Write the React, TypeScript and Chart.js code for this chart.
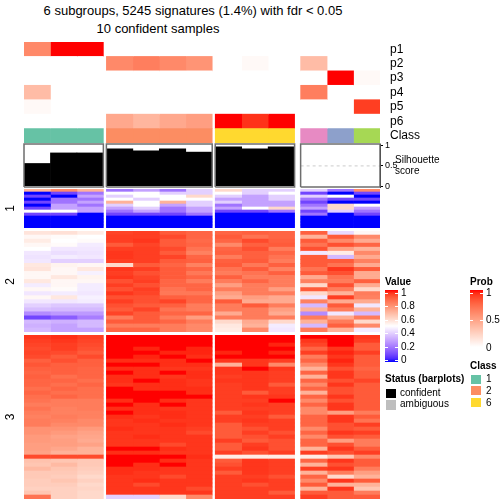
import React, { useEffect, useRef } from 'react';
import { Chart, registerables } from 'chart.js';
Chart.register(...registerables);

const FONT = '"Liberation Sans", Arial, Helvetica, sans-serif';
Chart.defaults.font.family = FONT;
Chart.defaults.color = '#000';

// ---------------- data ----------------
const titleLine1 = '6 subgroups, 5245 signatures (1.4%) with fdr < 0.05';
const titleLine2 = '10 confident samples';

const sampleClass = [1, 1, 1, 2, 2, 2, 2, 6, 6, 6, 4, 3, 5];
const colsPerSlice = [3, 4, 3, 3];

const probLabels = ['p1', 'p2', 'p3', 'p4', 'p5', 'p6'];
const p1 = [0.6, 1, 1, 0, 0, 0, 0, 0, 0, 0, 0, 0, 0];
const p2 = [0, 0, 0, 0.6, 0.65, 0.6, 0.55, 0, 0.03, 0, 0.35, 0, 0];
const p3 = [0, 0, 0, 0, 0, 0, 0, 0, 0, 0, 0, 1, 0.03];
const p4 = [0.35, 0, 0, 0, 0, 0, 0, 0, 0, 0, 0.65, 0, 0];
const p5 = [0.03, 0, 0, 0, 0, 0, 0, 0, 0, 0, 0, 0, 0.9];
const p6 = [0, 0, 0, 0.45, 0.38, 0.45, 0.5, 1, 0.93, 1, 0, 0, 0];
const probMatrix = [p1, p2, p3, p4, p5, p6];
const classLabel = 'Class';
const classColors: Record<number, string> = {
  1: '#66C2A5', 2: '#FC8D62', 3: '#8DA0CB', 4: '#E78AC3', 5: '#A6D854', 6: '#FFD92F',
};

const silhouette = [0.56, 0.82, 0.82, 0.92, 0.87, 0.92, 0.84, 0.97, 0.92, 0.97, 0, 0, 0];
const silTicks = [0, 0.5, 1];

const rowSliceLabels = ['1', '2', '3'];
// heatmap values x10 (0 = blue, 5 = white, 10 = red)
const heatSlice1 = [
  [7, 8, 7, 2, 3, 2, 4, 6, 4, 4, 4, 2, 8],
  [0, 1, 2, 5, 5, 4, 4, 5, 4, 5, 1, 0, 1],
  [1, 0, 3, 4, 5, 5, 6, 4, 3, 4, 4, 5, 0],
  [0, 2, 2, 5, 4, 5, 5, 3, 3, 4, 2, 1, 1],
  [1, 2, 3, 7, 5, 7, 4, 4, 3, 3, 1, 0, 0],
  [0, 3, 2, 4, 5, 3, 4, 2, 3, 3, 2, 6, 5],
  [1, 3, 3, 3, 4, 2, 3, 3, 5, 6, 3, 6, 3],
  [5, 5, 3, 2, 3, 2, 3, 1, 1, 2, 1, 4, 2],
  [1, 1, 0, 1, 1, 1, 2, 0, 0, 0, 2, 0, 1],
  [0, 0, 0, 0, 0, 0, 0, 0, 0, 0, 0, 0, 0],
  [0, 0, 0, 0, 0, 0, 0, 0, 0, 0, 0, 0, 0],
  [0, 0, 0, 0, 0, 0, 0, 0, 0, 0, 0, 0, 0],
  [0, 0, 0, 0, 0, 0, 0, 0, 0, 0, 0, 0, 0],
];
const heatSlice2 = [
  [5.7, 5.8, 5.5, 9.4, 9.5, 9.0, 8.8, 8.8, 8.9, 8.8, 8.9, 4.2, 5.2],
  [5.2, 5.1, 5.0, 9.5, 9.5, 9.3, 8.8, 9.0, 8.5, 8.8, 7.0, 9.0, 8.0],
  [5.5, 5.0, 5.1, 9.5, 9.6, 9.0, 8.7, 8.8, 9.3, 8.9, 9.0, 8.0, 7.2],
  [5.2, 5.1, 4.6, 9.0, 9.4, 9.0, 8.8, 8.0, 8.9, 9.0, 8.5, 9.2, 8.8],
  [5.0, 4.5, 4.5, 9.5, 9.5, 9.3, 8.5, 8.8, 9.2, 8.3, 9.2, 7.5, 7.0],
  [4.5, 4.3, 4.4, 9.6, 9.5, 9.0, 8.2, 8.9, 8.9, 8.8, 4.5, 5.5, 8.0],
  [4.4, 4.6, 4.5, 9.6, 9.5, 9.4, 8.8, 8.3, 8.9, 8.5, 9.0, 3.5, 7.2],
  [4.5, 4.0, 4.0, 9.5, 9.5, 9.0, 8.9, 8.9, 9.0, 8.3, 9.0, 9.0, 8.2],
  [5.6, 5.3, 5.2, 6.0, 9.0, 8.8, 8.2, 9.0, 8.4, 8.9, 9.0, 8.5, 7.2],
  [5.7, 5.2, 5.6, 9.6, 9.5, 9.0, 8.8, 8.5, 9.0, 8.2, 8.5, 9.6, 9.0],
  [5.2, 5.2, 4.7, 9.5, 9.2, 9.0, 8.4, 8.3, 8.5, 8.9, 9.0, 9.2, 7.2],
  [5.2, 5.6, 5.3, 9.6, 9.4, 9.0, 8.8, 8.9, 8.3, 8.3, 7.2, 8.5, 7.2],
  [5.6, 5.2, 5.2, 9.2, 9.5, 8.8, 8.3, 8.3, 8.8, 8.3, 8.2, 8.3, 8.9],
  [4.6, 5.2, 4.6, 9.5, 9.2, 8.8, 8.8, 7.5, 8.3, 8.3, 6.0, 9.2, 7.2],
  [5.2, 5.1, 4.6, 9.2, 9.5, 8.5, 8.8, 8.3, 8.3, 7.5, 9.0, 8.3, 6.0],
  [4.5, 4.6, 4.5, 9.6, 9.4, 8.4, 8.4, 7.5, 8.3, 8.3, 6.0, 7.0, 8.3],
  [5.2, 5.6, 4.7, 9.2, 9.2, 8.9, 8.8, 7.2, 7.5, 7.2, 4.5, 9.5, 8.2],
  [4.5, 4.5, 4.6, 9.5, 9.2, 9.4, 8.8, 9.0, 7.2, 7.2, 8.2, 7.2, 7.2],
  [4.0, 3.8, 3.8, 9.2, 9.0, 8.9, 8.3, 8.3, 9.0, 8.3, 3.5, 9.0, 4.5],
  [3.6, 3.5, 3.5, 9.0, 9.4, 8.5, 8.3, 8.3, 8.3, 7.5, 7.0, 8.3, 7.0],
  [2.5, 2.8, 2.8, 9.4, 9.0, 8.8, 8.8, 7.2, 8.3, 7.2, 2.5, 4.5, 3.5],
  [1.0, 1.5, 2.2, 8.3, 9.0, 8.3, 7.5, 8.3, 8.3, 8.3, 8.3, 7.2, 8.3],
  [3.5, 3.3, 3.5, 9.0, 9.0, 8.8, 8.3, 6.0, 7.2, 6.0, 7.0, 8.3, 6.0],
  [3.3, 3.0, 3.5, 8.3, 8.3, 8.3, 8.0, 5.6, 7.0, 4.6, 3.5, 8.9, 8.0],
  [3.5, 3.0, 3.0, 8.8, 8.8, 8.3, 8.0, 5.5, 8.0, 4.5, 8.3, 7.0, 4.6],
];
const heatSlice3 = [
  [9.6, 9.7, 9.5, 10, 10, 10, 10, 10, 10, 10, 10, 10, 9.6],
  [9.5, 9.6, 9.4, 10, 10, 10, 10, 10, 10, 10, 9.6, 10, 9.5],
  [9.4, 9.5, 9.3, 10, 10, 10, 10, 10, 10, 9.8, 9.4, 10, 9.0],
  [9.3, 9.5, 9.2, 10, 9.8, 10, 9.8, 10, 10, 10, 8.8, 9.6, 9.0],
  [9.4, 9.3, 9.0, 10, 10, 9.8, 9.8, 9.8, 10, 9.8, 9.5, 9.8, 9.5],
  [9.3, 9.0, 9.3, 10, 9.8, 10, 9.7, 10, 10, 10, 8.3, 9.6, 9.0],
  [8.9, 9.2, 8.9, 9.7, 9.7, 9.7, 10, 9.6, 9.6, 9.5, 8.8, 9.8, 9.0],
  [9.1, 8.9, 8.9, 10, 10, 9.7, 9.7, 7.0, 9.6, 8.0, 8.0, 9.6, 9.0],
  [8.9, 8.9, 8.8, 9.7, 9.7, 9.6, 9.6, 9.6, 10, 9.6, 7.0, 9.2, 8.8],
  [8.8, 8.9, 8.8, 10, 9.7, 10, 9.7, 9.6, 9.6, 9.5, 8.8, 9.6, 9.0],
  [8.9, 8.6, 8.8, 9.7, 9.7, 9.6, 9.7, 9.5, 9.6, 9.5, 7.0, 9.6, 9.0],
  [8.8, 8.8, 8.6, 9.7, 10, 9.7, 9.6, 9.6, 9.6, 9.5, 8.8, 9.2, 9.4],
  [8.8, 8.6, 8.8, 9.6, 9.7, 9.7, 9.6, 9.5, 9.6, 9.0, 8.0, 9.6, 9.0],
  [8.6, 8.8, 8.6, 10, 9.7, 9.7, 9.7, 9.5, 9.6, 9.5, 8.8, 9.2, 9.0],
  [8.8, 8.6, 8.6, 10, 10, 10, 9.7, 9.5, 9.0, 9.5, 7.0, 9.2, 9.0],
  [8.6, 8.8, 8.6, 10, 10, 10, 10, 9.5, 9.6, 9.6, 8.8, 9.6, 9.0],
  [8.5, 8.3, 8.3, 9.7, 10, 9.7, 9.6, 9.5, 9.5, 10, 8.0, 9.2, 9.0],
  [8.3, 8.3, 8.3, 10, 9.7, 10, 9.6, 9.5, 9.6, 9.5, 8.8, 9.6, 9.0],
  [8.5, 8.2, 8.3, 9.7, 9.7, 9.6, 9.6, 9.5, 9.5, 9.5, 8.0, 9.6, 9.0],
  [8.3, 8.2, 8.2, 10, 9.7, 9.7, 9.6, 9.0, 9.6, 9.5, 8.0, 7.5, 8.3],
  [8.2, 8.3, 8.2, 9.7, 9.6, 9.7, 9.6, 9.5, 9.5, 9.0, 8.8, 9.6, 9.0],
  [8.3, 8.2, 8.0, 9.6, 9.7, 9.6, 9.6, 9.5, 9.6, 9.5, 8.8, 9.6, 8.5],
  [8.3, 8.0, 8.0, 9.6, 9.6, 9.7, 9.6, 9.0, 9.5, 9.5, 8.8, 9.2, 9.5],
  [7.8, 7.8, 7.6, 9.7, 9.6, 9.6, 9.5, 9.0, 9.2, 9.5, 8.0, 9.2, 9.0],
  [7.8, 7.6, 7.4, 9.6, 9.6, 9.6, 9.3, 9.0, 9.5, 9.2, 8.8, 9.6, 9.5],
  [7.6, 7.4, 7.3, 9.6, 9.7, 9.6, 9.6, 9.0, 9.2, 9.5, 8.0, 9.2, 9.0],
  [7.6, 7.5, 7.2, 9.6, 9.6, 9.6, 9.6, 9.5, 9.0, 9.2, 8.8, 7.5, 8.3],
  [7.5, 7.5, 7.4, 9.6, 9.6, 9.3, 9.6, 9.0, 9.5, 9.2, 8.8, 9.2, 8.3],
  [7.5, 7.3, 7.0, 10, 10, 9.7, 9.6, 9.0, 9.6, 9.2, 7.0, 9.6, 9.0],
  [7.4, 7.0, 7.0, 9.7, 9.7, 9.6, 9.6, 9.5, 9.2, 9.5, 9.5, 9.2, 9.5],
  [9.3, 9.3, 9.3, 10, 10, 10, 9.7, 5.5, 5.5, 5.5, 5.5, 6.5, 8.0],
  [6.6, 6.5, 6.4, 10, 10, 9.7, 9.6, 9.0, 9.6, 9.5, 8.8, 9.6, 9.0],
  [6.5, 6.8, 6.4, 10, 9.7, 10, 9.6, 9.2, 9.6, 9.5, 7.0, 9.2, 9.0],
  [6.8, 6.5, 6.3, 9.7, 9.7, 9.6, 9.6, 9.5, 9.6, 9.5, 9.5, 9.6, 8.3],
  [6.4, 6.4, 6.2, 9.7, 9.6, 9.6, 9.6, 9.0, 9.6, 9.5, 7.0, 8.3, 7.5],
  [6.4, 6.3, 6.0, 9.6, 9.6, 9.3, 9.6, 9.5, 9.5, 9.2, 8.8, 6.0, 7.0],
  [6.3, 6.5, 6.2, 9.6, 9.7, 9.6, 9.6, 9.5, 9.6, 9.5, 8.0, 9.6, 9.0],
  [6.3, 6.3, 6.0, 9.6, 9.3, 9.6, 9.6, 9.5, 9.2, 9.5, 9.0, 7.0, 7.0],
  [6.2, 6.2, 6.1, 9.6, 9.6, 9.6, 9.3, 9.5, 9.5, 9.5, 7.0, 9.6, 6.5],
  [6.5, 6.2, 6.0, 9.6, 9.6, 9.6, 9.6, 9.5, 9.5, 9.0, 9.0, 9.0, 8.3],
  [8.5, 6.2, 6.0, 4.0, 4.0, 6.0, 8.0, 9.5, 9.5, 9.5, 9.5, 9.0, 9.0],
];
const heatSlices = [heatSlice1, heatSlice2, heatSlice3];

const valueLegendTitle = 'Value';
const valueLegendTicks = [1, 0.8, 0.6, 0.4, 0.2, 0];
const probLegendTitle = 'Prob';
const probLegendTicks = [1, 0.5, 0];
const classLegendTitle = 'Class';
const classLegendItems = [1, 2, 6];
const statusLegendTitle = 'Status (barplots)';
const statusLabels = ['confident', 'ambiguous'];
const statusColors = ['#000000', '#BEBEBE'];

// ---------------- layout ----------------
const W = 504;
const PLOT_L = 24;
const RIGHT_SPACE = 124;
const SLICE_GAPS = [0.114, 0.114, 0.228];
const ANNO_TOP = 42;
const ANNO_H = 101;
const SIL_CANVAS_TOP = 138;
const SIL_CANVAS_H = 54;
const SIL_MIN = -0.02;
const SIL_MAX = 1.04;
const HEAT_BANDS: [number, number][] = [[189, 228], [231, 332], [335, 499]];

// ---------------- colours (LAB interpolation) ----------------
function hexToRgb(h: string) {
  return [parseInt(h.slice(1, 3), 16), parseInt(h.slice(3, 5), 16), parseInt(h.slice(5, 7), 16)];
}
function toLin(c: number) {
  c /= 255;
  return c <= 0.04045 ? c / 12.92 : Math.pow((c + 0.055) / 1.055, 2.4);
}
function fromLin(c: number) {
  const v = c <= 0.0031308 ? 12.92 * c : 1.055 * Math.pow(Math.max(c, 0), 1 / 2.4) - 0.055;
  return Math.round(Math.max(0, Math.min(1, v)) * 255);
}
function rgbToLab(rgb: number[]) {
  const [R, G, B] = rgb.map(toLin);
  const X = (0.4124564 * R + 0.3575761 * G + 0.1804375 * B) / 0.95047;
  const Y = 0.2126729 * R + 0.7151522 * G + 0.072175 * B;
  const Z = (0.0193339 * R + 0.119192 * G + 0.9503041 * B) / 1.08883;
  const f = (t: number) => (t > 0.008856 ? Math.cbrt(t) : 7.787 * t + 16 / 116);
  return [116 * f(Y) - 16, 500 * (f(X) - f(Y)), 200 * (f(Y) - f(Z))];
}
function labToRgb(lab: number[]) {
  const [L, a, b] = lab;
  const fy = (L + 16) / 116;
  const fx = fy + a / 500;
  const fz = fy - b / 200;
  const inv = (t: number) => (t * t * t > 0.008856 ? t * t * t : (t - 16 / 116) / 7.787);
  const X = inv(fx) * 0.95047;
  const Y = inv(fy);
  const Z = inv(fz) * 1.08883;
  const R = 3.2404542 * X - 1.5371385 * Y - 0.4985314 * Z;
  const G = -0.969266 * X + 1.8760108 * Y + 0.041556 * Z;
  const B = 0.0556434 * X - 0.2040259 * Y + 1.0572252 * Z;
  return [fromLin(R), fromLin(G), fromLin(B)];
}
function makeRamp(breaks: number[], hexes: string[]) {
  const labs = hexes.map((h) => rgbToLab(hexToRgb(h)));
  return (v: number) => {
    const x = Math.max(breaks[0], Math.min(breaks[breaks.length - 1], v));
    let i = 0;
    while (i < breaks.length - 2 && x > breaks[i + 1]) i++;
    const t = (x - breaks[i]) / (breaks[i + 1] - breaks[i]);
    const lab = labs[i].map((c, k) => c + (labs[i + 1][k] - c) * t);
    const [r, g, b] = labToRgb(lab);
    return `rgb(${r},${g},${b})`;
  };
}
const valueColor = makeRamp([0, 0.5, 1], ['#0000FF', '#FFFFFF', '#FF0000']);
const probColor = makeRamp([0, 1], ['#FFFFFF', '#FF0000']);

// ---------------- column geometry ----------------
const colStart: number[] = [];
const sliceRange: [number, number][] = [];
let cursor = 0;
colsPerSlice.forEach((n, s) => {
  const s0 = cursor;
  for (let i = 0; i < n; i++) {
    colStart.push(cursor);
    cursor += 1;
  }
  sliceRange.push([s0, cursor]);
  if (s < SLICE_GAPS.length) cursor += SLICE_GAPS[s];
});
const X_MAX = cursor;

const baseOptions = {
  animation: false,
  responsive: false,
  events: [],
  plugins: { legend: { display: false }, tooltip: { enabled: false }, title: { display: false } },
};
const xHidden = { type: 'linear', display: false, min: 0, max: X_MAX, offset: false, ticks: { stepSize: 100 } };

function annoConfig(): any {
  const labels = [...probLabels, classLabel];
  return {
    type: 'bar',
    data: {
      labels,
      datasets: sampleClass.map((cls, j) => ({
        data: labels.map(() => [colStart[j], colStart[j] + 1]),
        backgroundColor: [...probMatrix.map((row) => probColor(row[j])), classColors[cls]],
        borderWidth: 0,
        barPercentage: 1,
        categoryPercentage: 1,
        grouped: false,
      })),
    },
    options: {
      ...baseOptions,
      indexAxis: 'y',
      layout: { padding: { left: PLOT_L, right: 0, top: 0, bottom: 0 } },
      scales: {
        x: xHidden,
        y: {
          type: 'category',
          position: 'right',
          offset: true,
          grid: { display: false },
          border: { display: false },
          ticks: { color: '#000', font: { size: 12, family: FONT }, padding: 2, autoSkip: false },
          afterFit: (s: any) => {
            s.width = RIGHT_SPACE;
            s.paddingTop = 0;
            s.paddingBottom = 0;
          },
        },
      },
    },
  };
}

function silConfig(): any {
  const datasets: any[] = [
    {
      type: 'bar',
      data: silhouette.map((v, j) => ({ x: colStart[j] + 0.5, y: v > 0 ? v : null })),
      backgroundColor: '#000000',
      borderWidth: 0,
      barPercentage: 1,
      categoryPercentage: 1,
      grouped: false,
      order: 2,
    },
    {
      type: 'line',
      data: [{ x: sliceRange[3][0], y: 0.5 }, { x: sliceRange[3][1], y: 0.5 }],
      borderColor: '#CCCCCC',
      borderDash: [3, 3],
      borderWidth: 1,
      pointRadius: 0,
      order: 3,
    },
    ...sliceRange.map(([a, b]) => ({
      type: 'line',
      data: [
        { x: a, y: SIL_MIN }, { x: b, y: SIL_MIN }, { x: b, y: SIL_MAX }, { x: a, y: SIL_MAX }, { x: a, y: SIL_MIN },
      ],
      borderColor: '#6E6E6E',
      borderWidth: 1.5,
      pointRadius: 0,
      fill: false,
      tension: 0,
      clip: false,
      order: 1,
    })),
  ];
  return {
    type: 'bar',
    data: { datasets },
    options: {
      ...baseOptions,
      layout: { padding: { left: PLOT_L, right: 0, top: 6, bottom: 5 } },
      scales: {
        x: xHidden,
        y: {
          type: 'linear',
          position: 'right',
          min: SIL_MIN,
          max: SIL_MAX,
          afterBuildTicks: (s: any) => { s.ticks = silTicks.map((v) => ({ value: v })); },
          ticks: { color: '#000', font: { size: 9, family: FONT }, padding: 2, callback: (v: any) => String(v) },
          grid: { drawOnChartArea: false, drawTicks: true, tickLength: 3, color: '#000' },
          border: { display: true, color: '#000', width: 1 },
          afterFit: (s: any) => {
            s.width = RIGHT_SPACE;
            s.paddingTop = 0;
            s.paddingBottom = 0;
          },
        },
      },
    },
  };
}

function heatConfig(k: number): any {
  const rows = heatSlices[k];
  return {
    type: 'bar',
    data: {
      labels: rows.map((_, i) => `${rowSliceLabels[k]}-${i}`),
      datasets: colStart.map((x0, j) => ({
        data: rows.map(() => [x0, x0 + 1]),
        backgroundColor: rows.map((r) => valueColor(r[j] / 10)),
        borderWidth: 0,
        barPercentage: 1,
        categoryPercentage: 1,
        grouped: false,
      })),
    },
    options: {
      ...baseOptions,
      indexAxis: 'y',
      layout: { padding: { left: 0, right: RIGHT_SPACE, top: 0, bottom: 0 } },
      scales: {
        x: xHidden,
        y: {
          type: 'category',
          position: 'left',
          ticks: { display: false },
          grid: { display: false },
          border: { display: false },
          title: {
            display: true,
            text: rowSliceLabels[k],
            color: '#000',
            font: { size: 12, family: FONT },
            padding: { top: 3, bottom: 0 },
          },
          afterFit: (s: any) => {
            s.width = PLOT_L;
            s.paddingTop = 0;
            s.paddingBottom = 0;
          },
        },
      },
    },
  };
}

function ChartCanvas({ top, height, make }: { top: number; height: number; make: () => any }) {
  const ref = useRef<HTMLCanvasElement | null>(null);
  useEffect(() => {
    const chart = new Chart(ref.current as HTMLCanvasElement, make());
    return () => chart.destroy();
  }, []);
  return (
    <canvas
      ref={ref}
      width={W}
      height={height}
      style={{ position: 'absolute', left: 0, top, width: W, height, display: 'block' }}
    />
  );
}

function Txt({ x, y, text, size = 10, bold = false, center = false }: any) {
  const lh = Math.round(size * 1.2);
  const style: any = {
    position: 'absolute',
    top: y - lh / 2,
    fontSize: size,
    lineHeight: `${lh}px`,
    fontWeight: bold ? 'bold' : 'normal',
    fontFamily: FONT,
    whiteSpace: 'nowrap',
    color: '#000',
  };
  if (center) {
    style.left = x - 250;
    style.width = 500;
    style.textAlign = 'center';
  } else {
    style.left = x;
  }
  return <div style={style}>{text}</div>;
}

function GradientLegend({ x, top, h, titleText, ticks, color, labelTop, labelBottom }: any) {
  const stops: string[] = [];
  for (let i = 0; i <= 20; i++) {
    const v = 1 - i / 20;
    stops.push(`${color(v)} ${(i / 20) * 100}%`);
  }
  const maxT = ticks[0];
  const minT = ticks[ticks.length - 1];
  const yFor = (v: number) => labelTop + ((maxT - v) / (maxT - minT)) * (labelBottom - labelTop);
  return (
    <>
      <Txt x={x} y={top - 8} text={titleText} bold />
      <div
        style={{
          position: 'absolute', left: x, top, width: 13, height: h,
          background: `linear-gradient(to bottom, ${stops.join(', ')})`,
        }}
      />
      {ticks.map((t: number) => (
        <React.Fragment key={t}>
          <div style={{ position: 'absolute', left: x, top: Math.round(yFor(t)), width: 3, height: 1, background: '#fff' }} />
          <div style={{ position: 'absolute', left: x + 10, top: Math.round(yFor(t)), width: 3, height: 1, background: '#fff' }} />
          <Txt x={x + 16} y={yFor(t)} text={String(t)} />
        </React.Fragment>
      ))}
    </>
  );
}

export default function App() {
  return (
    <div style={{ position: 'absolute', left: 0, top: 0, width: W, height: W, background: '#fff', overflow: 'hidden' }}>
      <Txt x={193} y={11} text={titleLine1} size={13} center />
      <Txt x={158} y={29} text={titleLine2} size={13} center />

      <ChartCanvas top={ANNO_TOP} height={ANNO_H} make={annoConfig} />
      <ChartCanvas top={SIL_CANVAS_TOP} height={SIL_CANVAS_H} make={silConfig} />
      {HEAT_BANDS.map(([a, b], k) => (
        <ChartCanvas key={k} top={a} height={b - a} make={() => heatConfig(k)} />
      ))}

      <Txt x={395} y={160} text="Silhouette" size={10} />
      <Txt x={395} y={171} text="score" size={10} />

      <GradientLegend
        x={385} top={290} h={72} titleText={valueLegendTitle} ticks={valueLegendTicks}
        color={valueColor} labelTop={292.7} labelBottom={360}
      />
      <GradientLegend
        x={470} top={290} h={57} titleText={probLegendTitle} ticks={probLegendTicks}
        color={probColor} labelTop={292.7} labelBottom={348}
      />

      <Txt x={470} y={366} text={classLegendTitle} bold />
      {classLegendItems.map((c, i) => (
        <React.Fragment key={c}>
          <div
            style={{
              position: 'absolute', left: 470, top: 373.5 + i * 11.7, width: 12, height: 11.2,
              background: classColors[c], border: '1px solid #fff', boxSizing: 'border-box',
            }}
          />
          <Txt x={486} y={379 + i * 12} text={String(c)} />
        </React.Fragment>
      ))}

      <Txt x={385} y={379} text={statusLegendTitle} bold />
      {statusLabels.map((lab, i) => (
        <React.Fragment key={lab}>
          <div
            style={{
              position: 'absolute', left: 385, top: 387.5 + i * 11.5, width: 12, height: 11.5,
              background: statusColors[i], border: '1px solid #fff', boxSizing: 'border-box',
            }}
          />
          <Txt x={400} y={393 + i * 11.2} text={lab} />
        </React.Fragment>
      ))}
    </div>
  );
}
